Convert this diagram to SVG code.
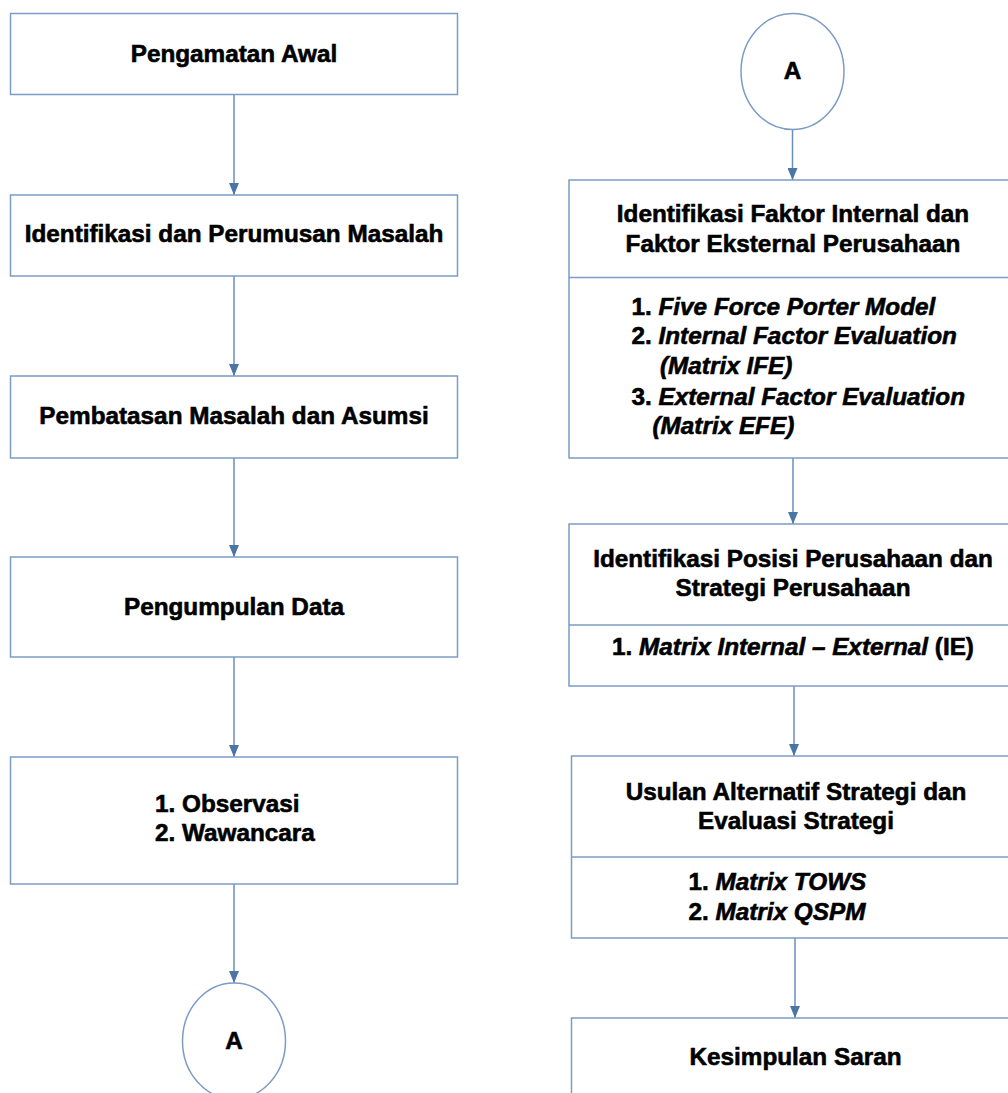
<svg xmlns="http://www.w3.org/2000/svg" width="1008" height="1093" viewBox="0 0 1008 1093">
<defs>
<style>
.box{fill:#ffffff;stroke:#7b9cc5;stroke-width:1.5}
.div{stroke:#7b9cc5;stroke-width:1.5}
.con{stroke:#6a8eba;stroke-width:1.5;fill:none;marker-end:url(#arr)}
text{font-family:"Liberation Sans",Arial,sans-serif;font-weight:bold;font-size:24.3px;fill:#000;stroke:#000;stroke-width:0.6}
.c{text-anchor:middle}
.i{font-style:italic}
</style>
<marker id="arr" viewBox="0 0 12 10" refX="12" refY="5" markerWidth="12" markerHeight="10" markerUnits="userSpaceOnUse" orient="auto">
<path d="M0,0 L12,5 L0,10 z" fill="#4b75a5"/>
</marker>
</defs>
<rect width="1008" height="1093" fill="#ffffff"/>

<g id="connectors">
<line class="con" x1="234" y1="94" x2="234" y2="195"/>
<line class="con" x1="234" y1="276" x2="234" y2="376"/>
<line class="con" x1="234" y1="458" x2="234" y2="557"/>
<line class="con" x1="234" y1="657" x2="234" y2="757"/>
<line class="con" x1="234" y1="884" x2="234" y2="983"/>
<line class="con" x1="792.5" y1="129.5" x2="792.5" y2="180"/>
<line class="con" x1="793" y1="458" x2="793" y2="524"/>
<line class="con" x1="794" y1="686" x2="794" y2="756"/>
<line class="con" x1="795" y1="938" x2="795" y2="1018"/>
</g>

<g id="n1">
<rect class="box" x="10.5" y="13.5" width="447" height="81"/>
<text class="c" x="234" y="62">Pengamatan Awal</text>
</g>
<g id="n2">
<rect class="box" x="10.5" y="195" width="447" height="81"/>
<text class="c" x="234" y="242">Identifikasi dan Perumusan Masalah</text>
</g>
<g id="n3">
<rect class="box" x="10.5" y="376" width="447" height="82"/>
<text class="c" x="234" y="423.5">Pembatasan Masalah dan Asumsi</text>
</g>
<g id="n4">
<rect class="box" x="10.5" y="557" width="447" height="100"/>
<text class="c" x="234" y="615">Pengumpulan Data</text>
</g>
<g id="n5">
<rect class="box" x="10.5" y="757" width="447" height="127"/>
<text x="155" y="812">1. Observasi</text>
<text x="155" y="841">2. Wawancara</text>
</g>
<g id="conA1">
<ellipse class="box" cx="234" cy="1041" rx="51.5" ry="58"/>
<text class="c" x="234" y="1048.5">A</text>
</g>

<g id="conA2">
<ellipse class="box" cx="792.5" cy="71.5" rx="51.5" ry="58"/>
<text class="c" x="792.5" y="78.5">A</text>
</g>
<g id="r1">
<rect class="box" x="569" y="180" width="448" height="278"/>
<line class="div" x1="569" y1="277.5" x2="1017" y2="277.5"/>
<text class="c" x="793" y="222">Identifikasi Faktor Internal dan</text>
<text class="c" x="793" y="252">Faktor Eksternal Perusahaan</text>
<text x="631.5" y="314.5">1. <tspan class="i">Five Force Porter Model</tspan></text>
<text x="631.5" y="344">2. <tspan class="i">Internal Factor Evaluation</tspan></text>
<text class="i" x="660" y="373.5">(Matrix IFE)</text>
<text x="631.5" y="404.5">3. <tspan class="i">External Factor Evaluation</tspan></text>
<text class="i" x="652.5" y="433.5">(Matrix EFE)</text>
</g>
<g id="r2">
<rect class="box" x="569" y="524" width="448" height="162"/>
<line class="div" x1="569" y1="625" x2="1017" y2="625"/>
<text class="c" x="793" y="567">Identifikasi Posisi Perusahaan dan</text>
<text class="c" x="793" y="595.5">Strategi Perusahaan</text>
<text class="c" x="793" y="655">1. <tspan class="i">Matrix Internal – External</tspan> (IE)</text>
</g>
<g id="r3">
<rect class="box" x="571.5" y="756" width="448" height="182"/>
<line class="div" x1="571.5" y1="857" x2="1019.5" y2="857"/>
<text class="c" x="796" y="799.5">Usulan Alternatif Strategi dan</text>
<text class="c" x="796" y="828.5">Evaluasi Strategi</text>
<text x="688.5" y="890">1. <tspan class="i">Matrix TOWS</tspan></text>
<text x="688.5" y="919.5">2. <tspan class="i">Matrix QSPM</tspan></text>
</g>
<g id="r4">
<rect class="box" x="571.5" y="1018" width="448" height="100"/>
<text class="c" x="795.5" y="1065">Kesimpulan Saran</text>
</g>
</svg>
